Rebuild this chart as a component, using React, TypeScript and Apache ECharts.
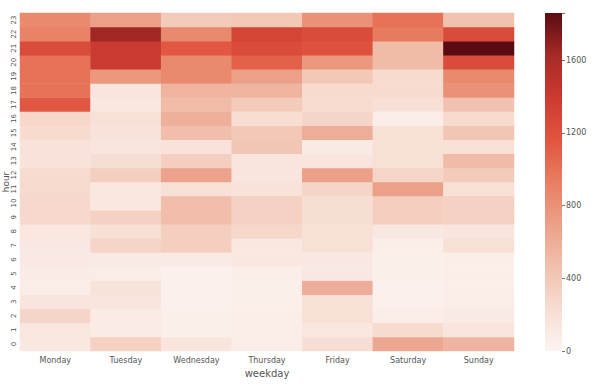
import React, { useEffect, useRef } from "react";
import * as echarts from "echarts";

const weekdays = ["Monday", "Tuesday", "Wednesday", "Thursday", "Friday", "Saturday", "Sunday"];
const hours = Array.from({ length: 24 }, (_, i) => String(i));

// values per weekday, hour 0..23
const monday = [120, 140, 300, 150, 70, 90, 110, 120, 130, 270, 270, 260, 250, 180, 180, 250, 280, 1150, 1000, 1000, 1000, 1250, 900, 850];
const tuesday = [330, 90, 90, 150, 170, 80, 100, 300, 200, 330, 130, 130, 350, 220, 150, 180, 200, 130, 150, 750, 1400, 1400, 1650, 700];
const wednesday = [150, 50, 50, 40, 40, 40, 100, 350, 350, 480, 480, 200, 680, 350, 180, 480, 580, 500, 550, 850, 850, 1150, 850, 380];
const thursday = [70, 70, 60, 50, 50, 60, 130, 130, 280, 330, 330, 180, 150, 150, 420, 400, 230, 380, 550, 700, 1100, 1250, 1300, 400];
const friday = [220, 140, 200, 200, 600, 120, 120, 200, 200, 220, 220, 300, 700, 150, 100, 600, 300, 250, 250, 400, 750, 1200, 1250, 800];
const saturday = [650, 250, 60, 40, 40, 50, 50, 60, 120, 350, 350, 700, 300, 200, 200, 200, 80, 200, 250, 250, 500, 500, 950, 1000];
const sunday = [550, 150, 100, 80, 60, 60, 60, 200, 150, 330, 330, 200, 380, 500, 200, 420, 250, 450, 800, 850, 1250, 1860, 1250, 450];

const columns = [monday, tuesday, wednesday, thursday, friday, saturday, sunday];

const vMax = 1860;
const colorbarTicks = [0, 400, 800, 1200, 1600];
const palette = ["#fcf4f1", "#f7ddd2", "#f1c0ad", "#eca088", "#e87e62", "#e15540", "#cc3a30", "#a62a26", "#5a0c12"];

export default function App() {
  const ref = useRef<HTMLDivElement>(null);
  useEffect(() => {
    if (!ref.current) return;
    const chart = echarts.init(ref.current, null, { renderer: "svg" });
    const data: number[][] = [];
    columns.forEach((col, x) => col.forEach((v, y) => data.push([x, y, v])));
    const font = "DejaVu Sans";
    const stops = palette.map((c, i) => ({ offset: i / (palette.length - 1), color: c }));
    chart.setOption({
      animation: false,
      textStyle: { fontFamily: font },
      grid: [
        { left: 20, top: 13, width: 494, height: 338, containLabel: false, outerBoundsMode: "none" },
        { left: 545, top: 13, width: 17, height: 338, containLabel: false, outerBoundsMode: "none" },
      ],
      graphic: [
        {
          type: "text",
          x: 6,
          y: 182,
          rotation: Math.PI / 2,
          style: {
            text: "hour",
            fontSize: 9,
            fontFamily: font,
            fill: "#555",
            align: "center",
            verticalAlign: "middle",
          },
        },
      ],
      xAxis: [
        {
          type: "category",
          gridIndex: 0,
          data: weekdays,
          name: "weekday",
          nameLocation: "middle",
          nameGap: 16,
          nameTextStyle: { fontSize: 10, color: "#555", fontFamily: font },
          axisLine: { show: false },
          axisTick: { alignWithLabel: true, length: 3, lineStyle: { color: "#777" } },
          axisLabel: { fontSize: 8, color: "#555", margin: 5, fontFamily: font },
          splitLine: { show: false },
        },
        {
          type: "category",
          gridIndex: 1,
          data: ["c"],
          show: false,
        },
      ],
      yAxis: [
        {
          type: "category",
          gridIndex: 0,
          data: hours,
          axisLine: { show: false },
          axisTick: { alignWithLabel: true, length: 3, lineStyle: { color: "#777" } },
          axisLabel: { fontSize: 7, color: "#555", rotate: 90, margin: 3, fontFamily: font, interval: 0 },
          splitLine: { show: false },
        },
        {
          type: "value",
          gridIndex: 1,
          position: "right",
          min: 0,
          max: vMax,
          interval: 400,
          axisLine: { show: false },
          axisTick: { show: true, length: 3, lineStyle: { color: "#777" } },
          axisLabel: {
            fontSize: 8,
            color: "#555",
            margin: 4,
            fontFamily: font,
            formatter: (v: number) => (colorbarTicks.includes(v) ? String(v) : ""),
          },
          splitLine: { show: false },
        },
      ],
      visualMap: {
        show: false,
        seriesIndex: 0,
        min: 0,
        max: vMax,
        inRange: { color: palette },
      },
      series: [
        {
          type: "heatmap",
          xAxisIndex: 0,
          yAxisIndex: 0,
          data,
          itemStyle: { borderWidth: 0 },
          emphasis: { disabled: true },
        },
        {
          type: "bar",
          xAxisIndex: 1,
          yAxisIndex: 1,
          data: [vMax],
          barWidth: "100%",
          itemStyle: {
            color: new echarts.graphic.LinearGradient(0, 1, 0, 0, stops),
          },
          silent: true,
        },
      ],
    });
    return () => chart.dispose();
  }, []);
  return (
    <div
      ref={ref}
      style={{ position: "fixed", left: 0, top: 0, width: 600, height: 389, background: "#fff" }}
    />
  );
}
